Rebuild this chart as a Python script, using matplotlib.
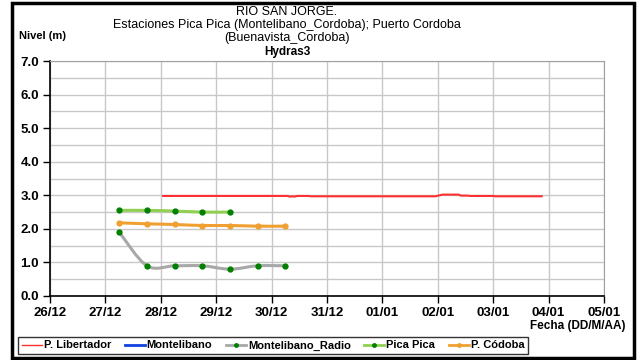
import matplotlib
matplotlib.use("Agg")
import matplotlib.pyplot as plt
import matplotlib.dates as mdates
from matplotlib.path import Path
from matplotlib.patches import PathPatch, Rectangle
from matplotlib.lines import Line2D
import numpy as np
import pandas as pd

plt.rcParams['font.family'] = ['Liberation Sans', 'DejaVu Sans']

# niveles (m) por estacion
lib_t = ['2010-12-28 01:00', '2010-12-30 07:00', '2010-12-30 08:00', '2010-12-30 09:00',
         '2010-12-30 10:00', '2010-12-30 11:00', '2010-12-30 16:00', '2010-12-30 17:00',
         '2011-01-01 23:00', '2011-01-02 02:00', '2011-01-02 09:00', '2011-01-02 10:00',
         '2011-01-02 13:00', '2011-01-02 14:00', '2011-01-03 00:00', '2011-01-03 01:00',
         '2011-01-03 21:00']
lib_v = [2.98, 2.98, 2.96, 2.97, 2.96, 2.98, 2.98, 2.97, 2.97, 3.02, 3.02, 2.99,
         2.99, 2.98, 2.98, 2.97, 2.97]

obs_t = ['2010-12-27 06:00', '2010-12-27 18:00', '2010-12-28 06:00', '2010-12-28 18:00',
         '2010-12-29 06:00', '2010-12-29 18:00', '2010-12-30 06:00']
radio_v = [1.9, 0.9, 0.9, 0.9, 0.8, 0.9, 0.9]
pica_v = [2.55, 2.55, 2.53, 2.50, 2.50]
cordoba_v = [2.18, 2.15, 2.13, 2.10, 2.10, 2.08, 2.08]

labels = ['P. Libertador', 'Montelibano', 'Montelibano_Radio', 'Pica Pica', 'P. Códoba']

fig = plt.figure(figsize=(6.4, 3.6), dpi=100)
ax = fig.add_axes([50/640, 1-296/360, 554/640, 235/360])

def smooth(ax, t, v, color, lw):
    # curva suavizada tipo Excel (bezier catmull-rom)
    x = mdates.date2num(pd.to_datetime(t))
    y = np.array(v, dtype=float)
    verts = [(x[0], y[0])]
    codes = [Path.MOVETO]
    n = len(x)
    for i in range(n - 1):
        x0, y0 = (x[i-1], y[i-1]) if i > 0 else (x[i], y[i])
        x3, y3 = (x[i+2], y[i+2]) if i + 2 < n else (x[i+1], y[i+1])
        c1 = (x[i] + (x[i+1] - x0) / 6, y[i] + (y[i+1] - y0) / 6)
        c2 = (x[i+1] - (x3 - x[i]) / 6, y[i+1] - (y3 - y[i]) / 6)
        verts += [c1, c2, (x[i+1], y[i+1])]
        codes += [Path.CURVE4] * 3
    ax.add_patch(PathPatch(Path(verts, codes), facecolor='none', edgecolor=color,
                           lw=lw, capstyle='round', zorder=3))

ax.plot(pd.to_datetime(lib_t), lib_v, color='#FF3030', lw=1.5, zorder=3)

smooth(ax, obs_t[:len(pica_v)], pica_v, '#8FD050', 2.2)
ax.plot(pd.to_datetime(obs_t[:len(pica_v)]), pica_v, 'o', color='#008000', ms=3.5, zorder=4)

smooth(ax, obs_t, cordoba_v, '#F0A030', 2.2)
ax.plot(pd.to_datetime(obs_t), cordoba_v, 'o', color='#F0A030', ms=3.5, zorder=4)

smooth(ax, obs_t, radio_v, '#A8A8A8', 2.2)
ax.plot(pd.to_datetime(obs_t), radio_v, 'o', color='#008000', ms=3.5, zorder=4)

ax.set_xlim(pd.Timestamp('2010-12-26'), pd.Timestamp('2011-01-05'))
ax.set_ylim(0, 7)
ax.xaxis.set_major_locator(mdates.DayLocator())
ax.xaxis.set_major_formatter(mdates.DateFormatter('%d/%m'))
ax.set_yticks(np.arange(0, 7.1, 1))
ax.set_yticks(np.arange(0.5, 7, 1), minor=True)
ax.yaxis.set_major_formatter(matplotlib.ticker.FormatStrFormatter('%.1f'))
ax.grid(True, which='both', color='#C8C8C8', lw=1)
ax.set_axisbelow(True)
ax.tick_params(axis='both', which='major', direction='out', length=5, width=1,
               labelsize=9.5, pad=3)
ax.tick_params(axis='y', which='minor', length=0)
for lab in ax.get_xticklabels() + ax.get_yticklabels():
    lab.set_fontweight('bold')
for s in ['top', 'right']:
    ax.spines[s].set_color('#A0A0A0')
for s in ['left', 'bottom']:
    ax.spines[s].set_color('black')
    ax.spines[s].set_linewidth(1.2)

# titulos
tx = 287/640
fig.text(tx, 1-12/360, 'RIO SAN JORGE.', ha='center', va='center', fontsize=9)
fig.text(tx, 1-25/360, 'Estaciones Pica Pica (Montelibano_Cordoba); Puerto Cordoba',
         ha='center', va='center', fontsize=9)
fig.text(tx, 1-38/360, '(Buenavista_Cordoba)', ha='center', va='center', fontsize=9)
fig.text(tx, 1-52/360, 'Hydras3', ha='center', va='center', fontsize=8.5, fontweight='bold')
fig.text(19/640, 1-36/360, 'Nivel (m)', ha='left', va='center', fontsize=8, fontweight='bold')
fig.text(626/640, 1-326/360, 'Fecha (DD/M/AA)', ha='right', va='center', fontsize=8.5,
         fontweight='bold')

handles = [
    Line2D([], [], color='#FF3030', lw=1),
    Line2D([], [], color='#1040E0', lw=2),
    Line2D([], [], color='#A8A8A8', lw=2, marker='o', ms=2.5, mfc='#008000', mec='#008000'),
    Line2D([], [], color='#8FD050', lw=2, marker='o', ms=2.5, mfc='#008000', mec='#008000'),
    Line2D([], [], color='#F0A030', lw=2, marker='o', ms=2.5, mfc='#F0A030', mec='#F0A030'),
]
leg = fig.legend(handles, labels, loc='center', bbox_to_anchor=(273/640, 1-345.5/360),
                 ncol=5, prop={'weight': 'bold', 'size': 8}, frameon=True,
                 fancybox=False, handlelength=1.8, handletextpad=0.2, columnspacing=1.2,
                 borderpad=0.3, borderaxespad=0)
leg.get_frame().set_edgecolor('black')
leg.get_frame().set_linewidth(1)

# marco exterior
fig.patches.append(Rectangle((12/640, 2/360), 622/640, 355/360, transform=fig.transFigure,
                             fill=False, edgecolor='black', lw=2.5))

fig.savefig('out.png', dpi=100)
